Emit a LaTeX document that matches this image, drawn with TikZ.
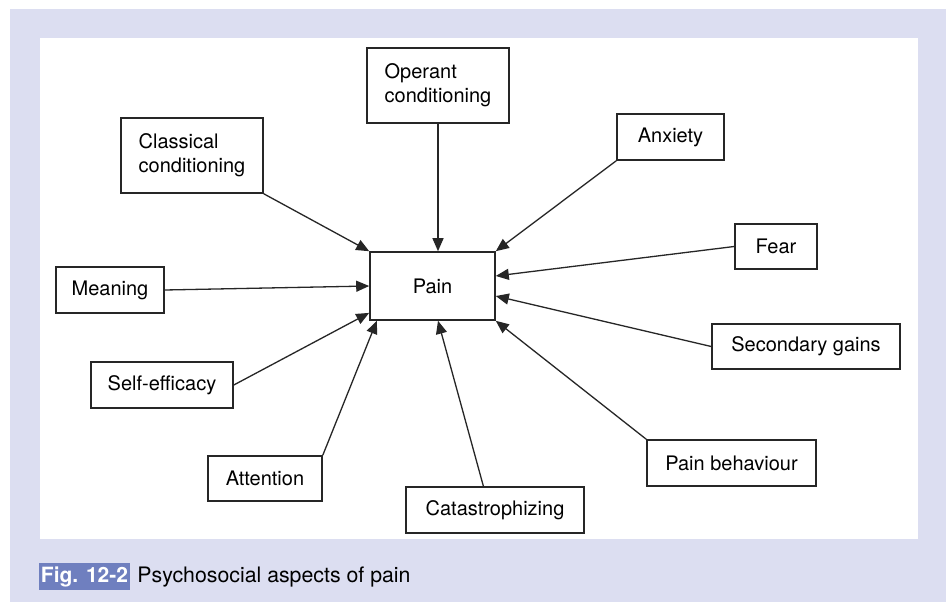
\documentclass[tikz,border=0pt]{standalone}
\usepackage{fontspec}
\setmainfont{TeX Gyre Heros}
\usepackage{tikz}
\usetikzlibrary{arrows.meta, positioning}
\definecolor{panelbg}{RGB}{220,222,241}
\definecolor{figblue}{RGB}{111,127,191}
\begin{document}
\begin{tikzpicture}[
    x=1pt, y=-1pt,
    box/.style={draw=black!85, line width=1.6pt, inner sep=0pt, align=left, font=\fontsize{20}{24}\selectfont},
    arrow/.style={-{Triangle[length=13pt, width=11pt]}, line width=1.3pt, draw=black!85},
    captext/.style={inner sep=0pt, font=\fontsize{21.3}{24}\selectfont}
]
\useasboundingbox (0,0) rectangle (946,602);
\fill[panelbg] (10,9) rectangle (946,602);
\fill[white] (40,38) rectangle (918,539);

% central node
\node[box, minimum width=125pt, minimum height=68pt] (pain) at (432.5,286) {Pain};

% factors around it
\node[box, minimum width=142pt, minimum height=75pt] (operant) at (438,85.5) {Operant\\conditioning};
\node[box, minimum width=142pt, minimum height=75pt] (classical) at (192,155.5) {Classical\\conditioning};
\node[box, minimum width=107pt, minimum height=46pt] (anxiety) at (670.5,137) {Anxiety};
\node[box, minimum width=82pt, minimum height=45pt] (fear) at (776,246.5) {Fear};
\node[box, minimum width=108pt, minimum height=46pt] (meaning) at (110,290) {Meaning};
\node[box, minimum width=188pt, minimum height=45pt] (secondary) at (806,346.5) {Secondary gains};
\node[box, minimum width=142pt, minimum height=46pt] (selfeff) at (162,385) {Self-efficacy};
\node[box, minimum width=114pt, minimum height=45pt] (attention) at (265,478.5) {Attention};
\node[box, minimum width=178pt, minimum height=46pt] (catastro) at (495,510) {Catastrophizing};
\node[box, minimum width=169pt, minimum height=46pt] (behaviour) at (731.5,463) {Pain behaviour};

\draw[arrow] (classical.south east) -- (pain.north west);
\draw[arrow] (operant.south) -- (operant.south |- pain.north);
\draw[arrow] (anxiety.south west) -- (pain.north east);
\draw[arrow] (fear.west) -- (pain.9);
\draw[arrow] (meaning.east) -- (pain.west);
\draw[arrow] (secondary.west) -- (pain.-9);
\draw[arrow] (selfeff.east) -- (pain.203);
\draw[arrow] (attention.north east) -- (pain.212);
\draw[arrow] (catastro.116) -- (pain.-81);
\draw[arrow] (behaviour.north west) -- (pain.south east);

% caption
\node[fill=figblue, text=white, font=\fontsize{21}{24}\selectfont\bfseries, inner sep=2pt, minimum height=27pt] (figtag) at (84.5,576.5) {Fig. 12-2};
\node[captext, anchor=base west] (caption) at ([xshift=7pt]figtag.base east) {Psychosocial aspects of pain};
\end{tikzpicture}
\end{document}
